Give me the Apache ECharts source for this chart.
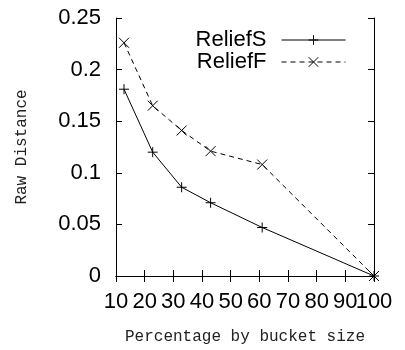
<!DOCTYPE html>
<html><head><meta charset="utf-8">
<script src="https://cdn.jsdelivr.net/npm/echarts@6/dist/echarts.min.js"></script>
<style>html,body{margin:0;padding:0;background:#fff}#c{width:405px;height:350px}</style>
</head><body><div id="c"></div>
<script>
const xTicks = [10, 20, 30, 40, 50, 60, 70, 80, 90, 100];
const yTicks = [0, 0.05, 0.1, 0.15, 0.2, 0.25];
const bucketPct = [12.8, 22.8, 32.9, 43, 61, 100];
const reliefS = [0.181, 0.120, 0.086, 0.071, 0.047, 0];
const reliefF = [0.226, 0.165, 0.141, 0.121, 0.108, 0];
const seriesNames = ['ReliefS', 'ReliefF'];

const plusPath = 'path://M5,0L5,10M0,5L10,5';
const crossPath = 'path://M0,0L10,10M10,0L0,10';
const labelFont = 'Liberation Sans';
const monoFont = 'Liberation Mono';

function pairs(xs, ys) { return xs.map((x, i) => [x, ys[i]]); }

const xMin = xTicks[0], xMax = xTicks[xTicks.length - 1];
const chart = echarts.init(document.getElementById('c'), null, {renderer: 'canvas'});
const axisLineStyle = {color: '#000', width: 1};
const xLabelStyle = {fontFamily: labelFont, fontSize: 22, color: '#000', margin: 15, showMinLabel: true, showMaxLabel: true, hideOverlap: false};
chart.setOption({
  animation: false,
  backgroundColor: '#fff',
  grid: {left: 116, right: 31, top: 18, bottom: 72},
  legend: {
    orient: 'vertical',
    right: 54, top: 24,
    align: 'right',
    itemWidth: 64, itemHeight: 12, itemGap: 0,
    data: seriesNames,
    lineStyle: {width: 1},
    itemStyle: {borderWidth: 1},
    textStyle: {fontFamily: labelFont, fontSize: 22, color: '#000', padding: [0, 10, 0, 0], lineHeight: 22}
  },
  xAxis: [{
    type: 'value', min: xMin, max: xMax, interval: 10,
    position: 'bottom',
    axisLine: {show: true, lineStyle: axisLineStyle},
    axisTick: {show: true, inside: true, length: 6, lineStyle: axisLineStyle},
    splitLine: {show: false},
    axisLabel: Object.assign({}, xLabelStyle, {formatter: v => (v === xMax ? '' : String(v))}),
    name: 'Percentage by bucket size', nameLocation: 'middle', nameGap: 53,
    nameTextStyle: {fontFamily: monoFont, fontSize: 16, color: '#222'}
  }, {
    type: 'value', min: xMin, max: xMax, interval: 10,
    position: 'top',
    axisLine: {show: true, lineStyle: axisLineStyle},
    axisTick: {show: true, inside: true, length: 6, lineStyle: axisLineStyle},
    splitLine: {show: false}, axisLabel: {show: false}
  }, {
    type: 'value', min: xMin, max: xMax, interval: 10,
    position: 'bottom', offset: 0,
    axisLine: {show: false}, axisTick: {show: false}, splitLine: {show: false},
    axisLabel: Object.assign({}, xLabelStyle, {formatter: v => (v === xMax ? String(v) : '')})
  }],
  yAxis: [{
    type: 'value', min: yTicks[0], max: yTicks[yTicks.length - 1], interval: 0.05,
    position: 'left',
    axisLine: {show: true, lineStyle: axisLineStyle},
    axisTick: {show: true, inside: true, length: 6, lineStyle: axisLineStyle},
    splitLine: {show: false},
    axisLabel: {fontFamily: labelFont, fontSize: 22, color: '#000', margin: 15, showMinLabel: true, showMaxLabel: true},
    name: 'Raw Distance', nameLocation: 'middle', nameGap: 86, nameRotate: 90,
    nameTextStyle: {fontFamily: monoFont, fontSize: 16, color: '#222'}
  }, {
    type: 'value', min: yTicks[0], max: yTicks[yTicks.length - 1], interval: 0.05,
    position: 'right',
    axisLine: {show: true, lineStyle: axisLineStyle},
    axisTick: {show: true, inside: true, length: 6, lineStyle: axisLineStyle},
    splitLine: {show: false}, axisLabel: {show: false}
  }],
  series: [{
    name: seriesNames[0], type: 'line', data: pairs(bucketPct, reliefS),
    clip: false,
    symbol: plusPath, symbolSize: 10,
    lineStyle: {color: '#000', width: 1, type: 'solid'},
    itemStyle: {color: '#000', borderColor: '#000', borderWidth: 1}
  }, {
    name: seriesNames[1], type: 'line', data: pairs(bucketPct, reliefF),
    clip: false,
    symbol: crossPath, symbolSize: 10,
    lineStyle: {color: '#000', width: 1, type: [5, 4]},
    itemStyle: {color: '#000', borderColor: '#000', borderWidth: 1}
  }]
});
</script></body></html>
